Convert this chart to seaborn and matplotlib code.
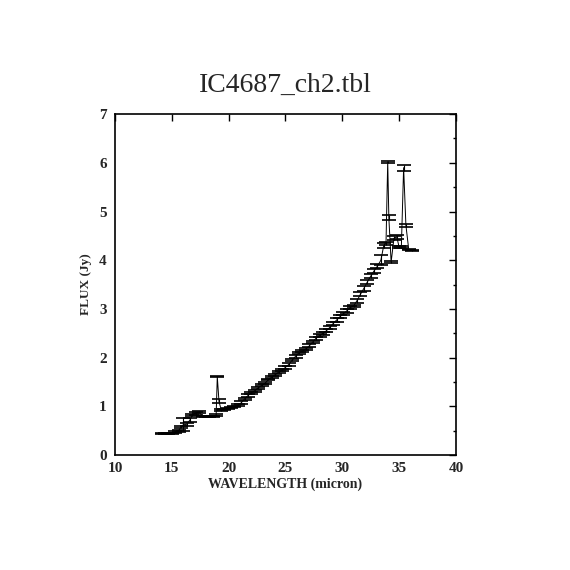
import matplotlib
matplotlib.use("Agg")
import matplotlib.pyplot as plt
from matplotlib.ticker import MultipleLocator
import seaborn as sns
import pandas as pd

# spectrum
wavelength = [14.1, 14.4, 14.7, 15.0, 15.3, 15.6, 15.8, 16.0, 16.3, 16.6,
              16.8, 17.1, 17.4, 17.7, 18.0, 18.3, 18.6, 18.9, 19.0, 19.15,
              19.35, 19.6, 19.9, 20.2, 20.5, 20.8, 21.1, 21.4, 21.7, 22.0,
              22.3, 22.6, 22.9, 23.2, 23.5, 23.8, 24.1, 24.4, 24.7, 25.0,
              25.3, 25.6, 25.9, 26.2, 26.5, 26.8, 27.1, 27.4, 27.7, 28.0,
              28.3, 28.6, 28.9, 29.2, 29.5, 29.8, 30.1, 30.4, 30.7, 31.0,
              31.3, 31.6, 31.9, 32.2, 32.5, 32.8, 33.1, 33.4, 33.65, 33.85,
              34.0, 34.1, 34.3, 34.55, 34.8, 35.0, 35.2, 35.4, 35.6, 35.85,
              36.1]
flux = [0.45, 0.45, 0.44, 0.45, 0.47, 0.50, 0.57, 0.62, 0.63, 0.72,
        0.82, 0.86, 0.88, 0.80, 0.79, 0.80, 0.80, 0.82, 1.61, 1.10,
        0.92, 0.93, 0.95, 0.97, 1.00, 1.02, 1.07, 1.15, 1.22, 1.28,
        1.32, 1.38, 1.43, 1.47, 1.55, 1.60, 1.65, 1.70, 1.74, 1.80,
        1.86, 1.95, 2.03, 2.10, 2.13, 2.18, 2.24, 2.32, 2.40, 2.45,
        2.50, 2.55, 2.62, 2.70, 2.77, 2.84, 2.90, 2.96, 3.03, 3.06,
        3.17, 3.30, 3.42, 3.55, 3.67, 3.78, 3.88, 4.00, 4.30, 4.35,
        6.02, 4.87, 3.96, 4.45, 4.48, 4.27, 4.27, 5.90, 4.72, 4.22,
        4.20]
flux_err = [0.01, 0.01, 0.01, 0.01, 0.02, 0.02, 0.02, 0.13, 0.03, 0.04,
            0.02, 0.03, 0.02, 0.01, 0.02, 0.01, 0.01, 0.02, 0.01, 0.04,
            0.02, 0.01, 0.01, 0.01, 0.01, 0.02, 0.03, 0.03, 0.03, 0.02,
            0.02, 0.02, 0.02, 0.02, 0.02, 0.02, 0.02, 0.02, 0.02, 0.03,
            0.03, 0.03, 0.03, 0.02, 0.02, 0.02, 0.03, 0.03, 0.03, 0.03,
            0.03, 0.03, 0.03, 0.04, 0.04, 0.03, 0.03, 0.04, 0.03, 0.03,
            0.04, 0.04, 0.05, 0.04, 0.04, 0.04, 0.05, 0.10, 0.05, 0.03,
            0.02, 0.05, 0.02, 0.04, 0.04, 0.02, 0.02, 0.065, 0.03, 0.02,
            0.01]

df = pd.DataFrame({"wavelength": wavelength, "flux": flux, "err": flux_err})

sns.set_style("white")
plt.rcParams["font.family"] = ["Liberation Serif", "DejaVu Serif"]

fig = plt.figure(figsize=(5.7, 5.7), dpi=100)
ax = fig.add_axes([0.2018, 0.2018, 0.598, 0.598])

sns.lineplot(data=df, x="wavelength", y="flux", color="black", linewidth=0.7,
             sort=False, estimator=None, ax=ax)
ax.errorbar(df["wavelength"], df["flux"], yerr=df["err"], fmt="none",
            ecolor="black", elinewidth=0.8, capsize=4.8, capthick=1.2)

ax.set_xlim(10, 40)
ax.set_ylim(0, 7)
ax.xaxis.set_major_locator(MultipleLocator(5))
ax.yaxis.set_major_locator(MultipleLocator(1))
ax.yaxis.set_minor_locator(MultipleLocator(0.5))
ax.tick_params(which="both", direction="in", top=True, right=True,
               color="black", width=1.0, labelsize=11)
ax.tick_params(axis="x", pad=5)
ax.tick_params(axis="y", pad=6)
ax.tick_params(which="major", length=5)
ax.tick_params(which="minor", length=2.5)
for lab in ax.get_xticklabels() + ax.get_yticklabels():
    lab.set_fontweight("bold")
for s in ax.spines.values():
    s.set_color("black")
    s.set_linewidth(1.2)

ax.set_xlabel("WAVELENGTH (micron)", fontsize=10, fontweight="bold", labelpad=2)
ax.set_ylabel("FLUX (Jy)", fontsize=9.5, fontweight="bold", labelpad=5)
ax.set_title("IC4687_ch2.tbl", fontsize=20, pad=16)

fig.savefig("out.png", dpi=100)
